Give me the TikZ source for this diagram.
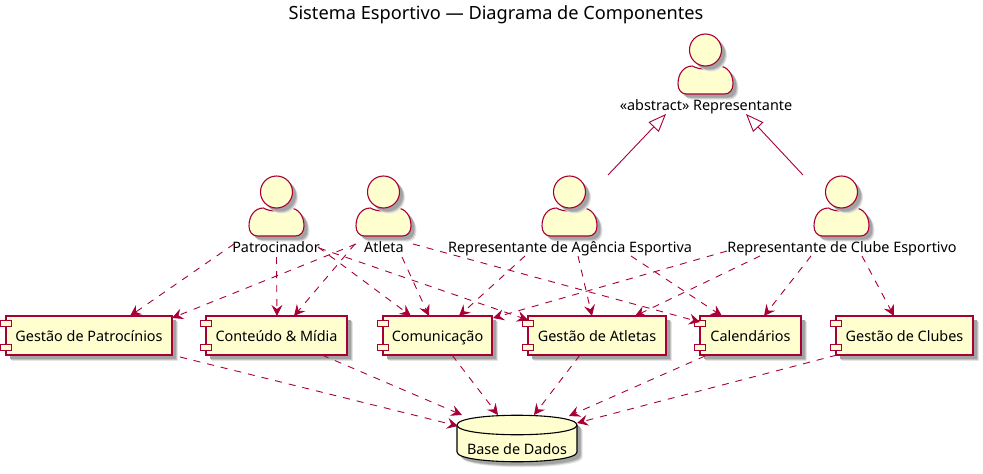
\documentclass[tikz,border=0pt]{standalone}
\usepackage{fontspec}
\setmainfont{Noto Sans}
\usetikzlibrary{arrows.meta,shadows}
\definecolor{umlline}{HTML}{A80036}
\definecolor{umlfill}{HTML}{FEFECE}
\tikzset{
  softshadow/.style={
    general shadow={shadow xshift=5.5pt,shadow yshift=-5.5pt,draw=none,fill=black!10},
    general shadow={shadow xshift=4.5pt,shadow yshift=-4.5pt,draw=none,fill=black!24},
    general shadow={shadow xshift=3.5pt,shadow yshift=-3.5pt,draw=none,fill=black!36}},
  lbl/.style={font=\fontsize{14.4}{16}\selectfont,inner sep=0pt,text height=14pt,text depth=2.5pt},
  comp/.style={rectangle,draw=umlline,fill=umlfill,line width=1.1pt,minimum height=39pt,inner sep=0pt,
    font=\fontsize{14.4}{16}\selectfont,text height=13.5pt,text depth=2.5pt,softshadow},
  comptab/.style={draw=umlline,fill=umlfill,line width=1.1pt},
  head/.style={circle,draw=umlline,fill=umlfill,line width=1.1pt,minimum size=32pt,inner sep=0pt,softshadow},
  body/.style={draw=umlline,fill=umlfill,line width=1.1pt,softshadow},
  dep/.style={draw=umlline,line width=.9pt,dash pattern=on 7pt off 7pt,-{Stealth[length=11pt,width=11pt,inset=4pt]}},
  gen/.style={draw=umlline,line width=.9pt,-{Triangle[open,length=18pt,width=14pt,fill=white]}},
  dbase/.style={draw=black,fill=umlfill,line width=1.1pt,softshadow}
}
\newcommand{\figactor}[3]{
  \begin{scope}[shift={(#2,#3)}]
    \path[body] (-27.5,50) .. controls (-27.5,40) and (-22,32) .. (-13,32)
      .. controls (-7,36) and (7,36) .. (13,32)
      .. controls (22,32) and (27.5,40) .. (27.5,50)
      .. controls (27.5,56) and (24,60) .. (19,60) -- (-19,60)
      .. controls (-24,60) and (-27.5,56) .. (-27.5,50) -- cycle;
    \node[head] (#1) at (0,16) {};
  \end{scope}
}
\newcommand{\comptabs}[1]{
  \draw[comptab] ([shift={(-5,5)}]#1.north west) rectangle ([shift={(6,11)}]#1.north west);
  \draw[comptab] ([shift={(-5,-11)}]#1.south west) rectangle ([shift={(6,-5)}]#1.south west);
}
\newcommand{\dep}[4]{\draw[dep] ([shift={(#2)}]#1.center) -- ([shift={(#4)}]#3.center);}
\begin{document}
\begin{tikzpicture}[x=1pt,y=-1pt]
  \useasboundingbox (0,0) rectangle (983,474);

  \node(T)[font=\fontsize{18.2}{20}\selectfont,inner sep=0pt] at (496,15) {Sistema Esportivo — Diagrama de Componentes};

  \figactor{Rep}{705.5}{34}
  \node(NRep)[lbl] at (706,105) {«abstract» Representante};

  \figactor{Pat}{276.5}{176}
  \node(NPat)[lbl] at (276,247) {Patrocinador};

  \figactor{Atl}{383.5}{176}
  \node(NAtl)[lbl] at (384,247) {Atleta};

  \figactor{Ag}{569.5}{176}
  \node(NAg)[lbl] at (570,247) {Representante de Agência Esportiva};

  \figactor{Clu}{841.5}{176}
  \node(NClu)[lbl] at (842,247) {Representante de Clube Esportivo};

  \node(GP)[comp,minimum width=166pt] at (89,335.5) {Gestão de Patrocínios};
  \node(CM)[comp,minimum width=141pt] at (276.5,335.5) {Conteúdo \& Mídia};
  \node(Com)[comp,minimum width=109pt] at (437.5,335.5) {Comunicação};
  \node(GA)[comp,minimum width=138pt] at (597,335.5) {Gestão de Atletas};
  \node(Cal)[comp,minimum width=101pt] at (750.5,335.5) {Calendários};
  \node(GC)[comp,minimum width=137pt] at (904.5,335.5) {Gestão de Clubes};
  \comptabs{GP}
  \comptabs{CM}
  \comptabs{Com}
  \comptabs{GA}
  \comptabs{Cal}
  \comptabs{GC}

  \path[dbase] (457,425) .. controls (457,412) and (577,412) .. (577,425) -- (577,452)
    .. controls (577,465) and (457,465) .. (457,452) -- cycle;
  \draw[black,line width=1.1pt] (457,425) .. controls (457,438) and (577,438) .. (577,425);
  \node(DB)[lbl] at (517,449) {Base de Dados};

  \draw[gen] ([shift={(38,-72)}]NAg.center) -- ([shift={(-40,9)}]NRep.center);
  \draw[gen] ([shift={(-39,-72)}]NClu.center) -- ([shift={(40,9)}]NRep.center);

  \dep{NPat}{-42,-3}{GP}{41,-19.5}
  \dep{NPat}{0.5,10}{CM}{0.5,-19.5}
  \dep{NPat}{42,0}{Com}{-26.5,-19.5}
  \dep{NPat}{43,1}{GA}{-69,-15.5}

  \dep{NAtl}{-28,-3}{GP}{83,-17.5}
  \dep{NAtl}{-29,-3}{CM}{17.5,-19.5}
  \dep{NAtl}{18,10}{Com}{-8.5,-19.5}
  \dep{NAtl}{29,-3}{Cal}{-50.5,-13.5}

  \dep{NAg}{-45,9}{Com}{21.5,-19.5}
  \dep{NAg}{8,9}{GA}{-5,-19.5}
  \dep{NAg}{61,9}{Cal}{-28.5,-19.5}

  \dep{NClu}{-115,4}{Com}{55.5,-17.5}
  \dep{NClu}{-82,9}{GA}{38,-19.5}
  \dep{NClu}{-31,9}{Cal}{13.5,-19.5}
  \dep{NClu}{20,9}{GC}{-10.5,-19.5}

  \dep{GP}{91,21.5}{DB}{-59,-23}
  \dep{CM}{45.5,19.5}{DB}{-55,-34}
  \dep{Com}{14.5,19.5}{DB}{-19,-34}
  \dep{GA}{-17,19.5}{DB}{17,-34}
  \dep{Cal}{-45.5,20.5}{DB}{52,-33}
  \dep{GC}{-67.5,19.5}{DB}{60,-26}
\end{tikzpicture}
\end{document}
